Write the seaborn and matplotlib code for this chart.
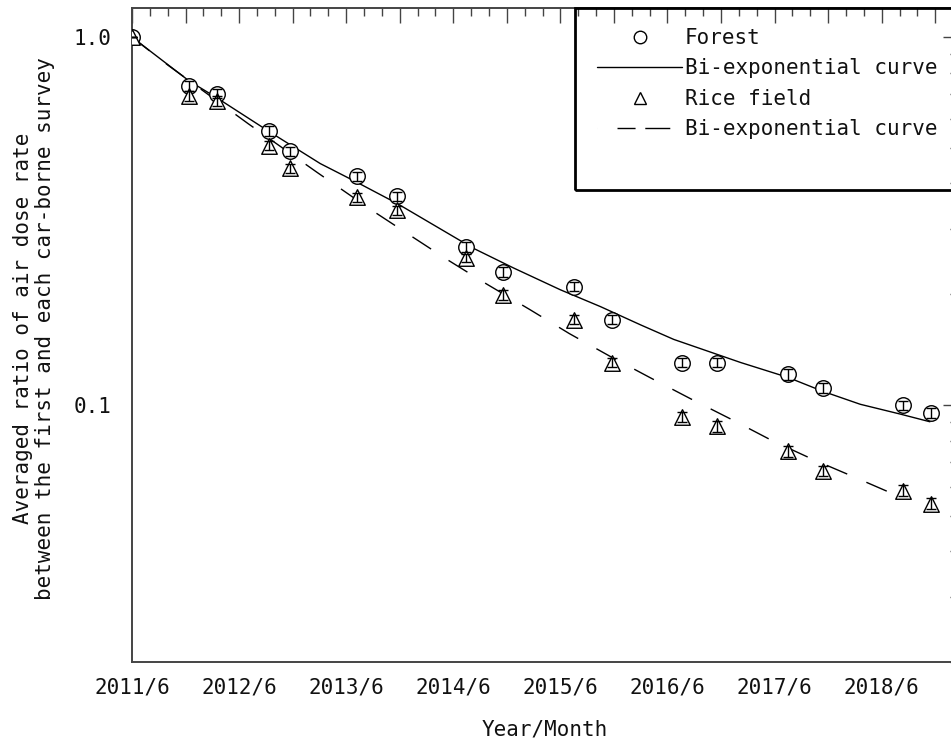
import matplotlib
matplotlib.use("Agg")
import matplotlib.pyplot as plt
from matplotlib.ticker import MultipleLocator, FuncFormatter, LogLocator, NullFormatter
from matplotlib.lines import Line2D
from matplotlib.patches import Rectangle
import pandas as pd
import seaborn as sns

# Survey timing: months elapsed since the first car-borne survey (2011/6)
survey_months = [0.0, 6.4, 9.5, 15.4, 17.7, 25.2, 29.7, 37.4, 41.6,
                 49.5, 53.8, 61.6, 65.5, 73.5, 77.4, 86.4, 89.5]

# Averaged ratio (first survey = 1.0) and its error for each land use
forest_ratio = [1.0, 0.737, 0.701, 0.557, 0.489, 0.418, 0.369, 0.269, 0.230,
                0.2095, 0.1705, 0.1304, 0.1304, 0.1211, 0.111, 0.0998, 0.095]
forest_err = [0.0, 0.022, 0.020, 0.017, 0.015, 0.013, 0.011, 0.008, 0.007,
              0.006, 0.005, 0.004, 0.004, 0.004, 0.0035, 0.003, 0.003]
rice_ratio = [1.0, 0.692, 0.671, 0.507, 0.4395, 0.367, 0.338, 0.251, 0.199,
              0.1705, 0.1304, 0.0926, 0.0876, 0.0749, 0.0662, 0.0584, 0.0539]
rice_err = [0.0, 0.020, 0.020, 0.015, 0.013, 0.011, 0.010, 0.007, 0.006,
            0.005, 0.004, 0.003, 0.003, 0.0025, 0.002, 0.002, 0.0018]

# Bi-exponential curves
forest_fit_months = [0.0, 6.4, 9.5, 15.4, 21.1, 25.2, 29.7, 38.2, 42.7, 48.0,
                     52.5, 57.0, 60.7, 68.2, 73.5, 77.4, 81.6, 86.1, 89.4]
forest_fit_ratio = [1.0, 0.760, 0.684, 0.553, 0.453, 0.403, 0.353, 0.267, 0.236,
                    0.2056, 0.185, 0.165, 0.1507, 0.1304, 0.1188, 0.1089, 0.1004,
                    0.0944, 0.090]
rice_fit_months = [0.0, 4.0, 13.0, 20.75, 26.7, 30.95, 35.4, 39.7, 44.6, 49.0,
                   53.6, 58.2, 62.7, 67.1, 71.8, 76.4, 80.9, 86.3]
rice_fit_ratio = [1.0, 0.840, 0.582, 0.4286, 0.3404, 0.2913, 0.2477, 0.2134,
                  0.1815, 0.1563, 0.1354, 0.1181, 0.1036, 0.0915, 0.0798, 0.0709,
                  0.0637, 0.0559]

# Year/Month tick labels (one per year, every 12 months)
year_labels = ["2011/6", "2012/6", "2013/6", "2014/6",
               "2015/6", "2016/6", "2017/6", "2018/6"]

sns.set_theme(style="white")
plt.rcParams["font.family"] = ["DejaVu Sans Mono"]
TXT = "#111111"
AXC = "#444444"

fig = plt.figure(figsize=(9.51, 7.44), dpi=100)
ax = fig.add_axes([132 / 951, 82 / 744, 826 / 951, 654 / 744])

points = pd.DataFrame({
    "month": survey_months * 2,
    "ratio": forest_ratio + rice_ratio,
    "err": forest_err + rice_err,
    "site": ["Forest"] * len(survey_months) + ["Rice field"] * len(survey_months),
})
curves = pd.DataFrame({
    "month": forest_fit_months + rice_fit_months,
    "ratio": forest_fit_ratio + rice_fit_ratio,
    "site": ["Forest"] * len(forest_fit_months) + ["Rice field"] * len(rice_fit_months),
})

# fitted curves
sns.lineplot(data=curves[curves.site == "Forest"], x="month", y="ratio",
             color="black", lw=1.0, estimator=None, sort=False, ax=ax, zorder=2)
sns.lineplot(data=curves[curves.site == "Rice field"], x="month", y="ratio",
             color="black", lw=1.0, estimator=None, sort=False, ax=ax, zorder=2)
ax.lines[-1].set_linestyle((0, (16, 15)))

# measured points with white-filled markers and error bars on top
for site, mk in [("Forest", "o"), ("Rice field", "^")]:
    d = points[points.site == site]
    sns.scatterplot(data=d, x="month", y="ratio", marker=mk, s=125,
                    facecolor="white", edgecolor="black", linewidth=1.0,
                    ax=ax, zorder=3, legend=False)
    ax.errorbar(d["month"], d["ratio"], yerr=d["err"], fmt="none",
                ecolor="black", elinewidth=1.0, capsize=3.5, capthick=1.0,
                zorder=4)

# axes
ax.set_yscale("log")
ax.set_ylim(0.02, 1.2)
ax.set_xlim(0, 92.55)
ax.xaxis.set_major_locator(MultipleLocator(6))
ax.xaxis.set_minor_locator(MultipleLocator(2))
ax.xaxis.set_major_formatter(FuncFormatter(
    lambda v, p: year_labels[int(round(v)) // 12]
    if abs(v % 12) < 1e-6 and 0 <= int(round(v)) // 12 < len(year_labels) else ""))
ax.yaxis.set_major_locator(LogLocator(base=10, numticks=10))
ax.yaxis.set_minor_locator(LogLocator(base=10, subs=range(2, 10), numticks=20))
ax.yaxis.set_major_formatter(FuncFormatter(lambda v, p: f"{v:.1f}"))
ax.yaxis.set_minor_formatter(NullFormatter())

ax.tick_params(which="both", direction="in", top=True, right=True,
               color=AXC, width=1.0, labelcolor=TXT, labelsize=15)
ax.tick_params(which="major", length=11)
ax.tick_params(which="minor", length=5.8)
ax.tick_params(axis="x", which="major", pad=11)
ax.tick_params(axis="y", which="major", pad=15)
for s in ax.spines.values():
    s.set_color(AXC)
    s.set_linewidth(1.4)

ax.set_xlabel("Year/Month", fontsize=15, color=TXT, labelpad=16)
ax.set_ylabel("Averaged ratio of air dose rate\nbetween the first and each car-borne survey",
              fontsize=15, color=TXT, linespacing=1.15)
ax.yaxis.set_label_coords(-0.0932, 0.51)

# legend with a framed box in the upper right corner
handles = [
    Line2D([], [], ls="none", marker="o", ms=9, mfc="white", mec="black", mew=1.0),
    Line2D([], [], color="black", lw=1.0),
    Line2D([], [], ls="none", marker="^", ms=9, mfc="white", mec="black", mew=1.0),
    Line2D([], [], color="black", lw=1.0, ls=(0, (0.01, 14.4, 13, 7, 18, 100))),
]
labels = ["Forest", "Bi-exponential curve", "Rice field", "Bi-exponential curve"]
leg = ax.legend(handles, labels, loc="upper left", bbox_to_anchor=(0.563, 0.9694),
                frameon=False, borderpad=0, borderaxespad=0, handlelength=4.08,
                handletextpad=0.12, labelspacing=0.5, fontsize=15)
for t in leg.get_texts():
    t.set_color(TXT)
leg.set_zorder(6)
ax.add_patch(Rectangle((0.5363, 0.7217), 0.47, 0.2783, transform=ax.transAxes,
                       fill=False, lw=2.0, ec="black", clip_on=False, zorder=5))

fig.savefig("out.png", dpi=100)
